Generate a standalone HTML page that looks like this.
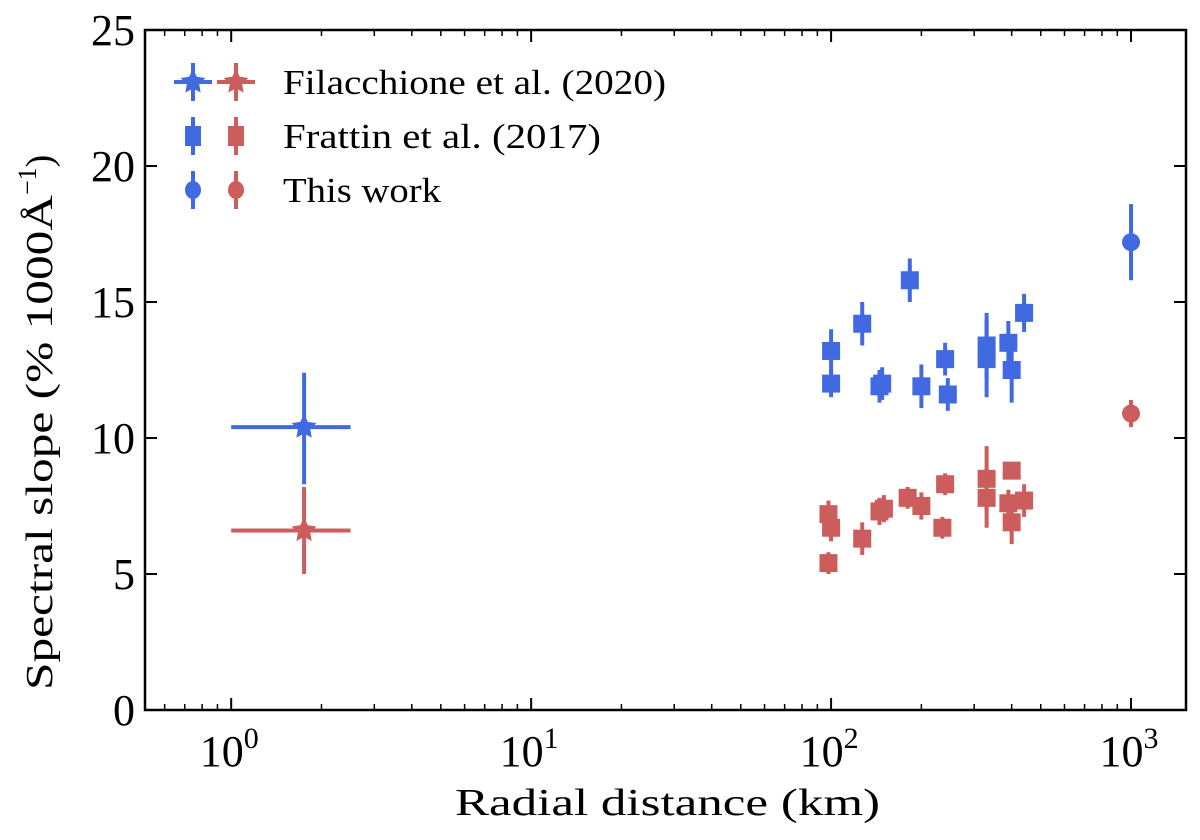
<!DOCTYPE html>
<html><head><meta charset="utf-8"><style>
body{margin:0;background:#fff;}
svg{display:block;font-family:"Liberation Serif",serif;}
</style></head><body>
<svg id="chart" width="1200" height="840"></svg>
<script>
const blueSqX=[100,100,127,145,148,183,200,240,245,330,330,390,400,440];
const blueSqY=[13.2,12.0,14.2,11.9,12.0,15.8,11.9,12.9,11.6,13.4,12.9,13.5,12.5,14.6];
const blueSqE=[0.8,0.5,0.8,0.6,0.6,0.8,0.8,0.6,0.6,1.2,1.4,0.8,1.2,0.7];
const redSqX=[98,100,98,127,145,150,180,200,240,235,330,330,400,390,400,440];
const redSqY=[7.2,6.7,5.4,6.3,7.3,7.4,7.8,7.5,8.3,6.7,8.5,7.8,8.8,7.6,6.9,7.7];
const redSqE=[0.5,0.5,0.4,0.6,0.5,0.5,0.4,0.5,0.4,0.4,1.2,1.1,0.3,0.5,0.8,0.6];
const circX=[1000,1000];
const circY=[17.2,10.9];
const circE=[1.4,0.5];
const starX=[1.75,1.75];
const starY=[10.4,6.6];
const starXlo=[1.0,1.0];
const starXhi=[2.5,2.5];
const starYlo=[8.3,5.0];
const starYhi=[12.4,8.2];
const yTicks=[0,5,10,15,20,25];
const xTickExp=[0,1,2,3];
const BLUE='#4169e1',RED='#cd5c5c';
const L=145,R=1186,T=30,B=710;
const xMin=Math.log10(0.516),xMax=Math.log10(1525);
const X=v=>L+(Math.log10(v)-xMin)/(xMax-xMin)*(R-L);
const Y=v=>B-v/25*(B-T);
const svg=document.getElementById('chart');
const NS='http://www.w3.org/2000/svg';
function mk(tag,attrs,parent){const e=document.createElementNS(NS,tag);for(const k in attrs)e.setAttribute(k,attrs[k]);(parent||svg).appendChild(e);return e;}
yTicks.forEach(v=>{
  const g=mk('g',{});
  
  
  mk('line',{x1:L,x2:L+12,y1:Y(v),y2:Y(v),stroke:'#000','stroke-width':2},g);
  mk('line',{x1:R,x2:R-12,y1:Y(v),y2:Y(v),stroke:'#000','stroke-width':2},g);
  const t=mk('text',{x:L-10,y:Y(v)+15,'text-anchor':'end','font-size':44},g);t.textContent=v;
});
for(let e=-1;e<=3;e++){for(let m=1;m<10;m++){const v=m*Math.pow(10,e);if(v<0.516||v>1525)continue;
  const len=m===1?12:6;
  const tk=mk('line',{x1:X(v),x2:X(v),y1:B,y2:B-len,stroke:'#000','stroke-width':m===1?2:1.5});
  
  
  mk('line',{x1:X(v),x2:X(v),y1:T,y2:T+len,stroke:'#000','stroke-width':m===1?2:1.5});
}}
xTickExp.forEach(e=>{
  const t=mk('text',{x:X(Math.pow(10,e))-2,y:B+56,'text-anchor':'middle','font-size':44});
  
  
  t.innerHTML='10<tspan dy="-18" font-size="30">'+e+'</tspan>';
});
const frame=mk('rect',{x:L,y:T,width:R-L,height:B-T,fill:'none',stroke:'#000','stroke-width':2.5});


const xl=mk('text',{x:455,y:815,'font-size':38,textLength:425,lengthAdjust:'spacingAndGlyphs'});


xl.textContent='Radial distance (km)';
const yl=mk('text',{x:0,y:0,'font-size':38,transform:'translate(52,690) rotate(-90)'});


yl.innerHTML='<tspan textLength="495" lengthAdjust="spacingAndGlyphs">Spectral slope (% 1000Å</tspan><tspan dy="-16" font-size="26">−1</tspan><tspan dy="16">)</tspan>';
function sq(xs,ys,es,c,name){xs.forEach((v,i)=>{
  const g=mk('g',{});
  
  
  const cx=X(v),cy=Y(ys[i]);
  mk('line',{x1:cx,x2:cx,y1:Y(ys[i]-es[i]),y2:Y(ys[i]+es[i]),stroke:c,'stroke-width':4},g);
  mk('rect',{x:cx-9,y:cy-9,width:18,height:18,fill:c},g);
});}
sq(blueSqX,blueSqY,blueSqE,BLUE,'frattin-blue-point');
sq(redSqX,redSqY,redSqE,RED,'frattin-red-point');
circX.forEach((v,i)=>{
  const c=i===0?BLUE:RED;
  const g=mk('g',{});
  
  
  mk('line',{x1:X(v),x2:X(v),y1:Y(circY[i]-circE[i]),y2:Y(circY[i]+circE[i]),stroke:c,'stroke-width':4},g);
  mk('circle',{cx:X(v),cy:Y(circY[i]),r:9,fill:c},g);
});
function star(cx,cy,r,c,p){let pts=[];for(let k=0;k<10;k++){const a=-Math.PI/2+k*Math.PI/5;const rr=k%2?r*0.5:r;pts.push((cx+rr*Math.cos(a)).toFixed(1)+','+(cy+rr*Math.sin(a)).toFixed(1));}
  mk('polygon',{points:pts.join(' '),fill:c},p);}
starX.forEach((v,i)=>{
  const c=i===0?BLUE:RED;
  const g=mk('g',{});
  
  
  mk('line',{x1:X(starXlo[i]),x2:X(starXhi[i]),y1:Y(starY[i]),y2:Y(starY[i]),stroke:c,'stroke-width':4},g);
  mk('line',{x1:X(v),x2:X(v),y1:Y(starYlo[i]),y2:Y(starYhi[i]),stroke:c,'stroke-width':4},g);
  star(X(v),Y(starY[i]),13,c,g);
});
const leg=[['Filacchione et al. (2020)','star',383],['Frattin et al. (2017)','sq',318],['This work','circ',158]];
leg.forEach((L2,i)=>{
  const y=82+i*54;
  const g=mk('g',{});
  
  
  [[193,BLUE],[236,RED]].forEach(([x,c])=>{
    mk('line',{x1:x,x2:x,y1:y-19,y2:y+19,stroke:c,'stroke-width':4},g);
    if(L2[1]==='star'){mk('line',{x1:x-19,x2:x+19,y1:y,y2:y,stroke:c,'stroke-width':4},g);star(x,y,13,c,g);}
    else if(L2[1]==='sq')mk('rect',{x:x-8,y:y-10,width:16,height:20,fill:c},g);
    else mk('ellipse',{cx:x,cy:y,rx:8,ry:9,fill:c},g);
  });
  const t=mk('text',{x:283,y:y+12,'font-size':35,textLength:L2[2],lengthAdjust:'spacingAndGlyphs'},g);t.textContent=L2[0];
});
</script>
</body></html>
